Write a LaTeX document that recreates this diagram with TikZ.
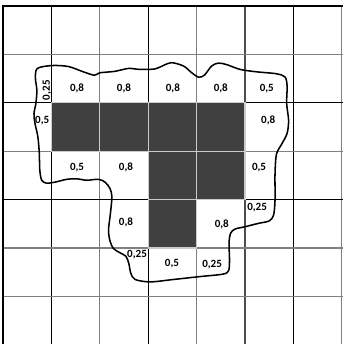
\documentclass[tikz,border=0pt]{standalone}
\usepackage{fontspec}
\newfontfamily\labfont{Carlito}
\usepackage{tikz}
\usetikzlibrary{positioning}
\usepackage{xcolor}
\definecolor{hot}{HTML}{404040}
\definecolor{gridgray}{HTML}{808080}

\begin{document}
\begin{tikzpicture}[x=1cm,y=-1cm, val/.style={font=\labfont\fontsize{6.5}{7.5}\selectfont\bfseries,inner sep=0pt}, hotcell/.style={fill=hot,draw=gray!40,line width=0.7pt}, gline/.style={line width=0.7pt}]
  \useasboundingbox (-0.062,-0.124) rectangle (7.004,6.983);
  % grid lines
  \foreach \i/\c in {1/black,2/gridgray,3/black,4/gridgray,5/black!70,6/black,7/gridgray}{
    \draw[gline,\c] (\i,0) -- (\i,7.2);
  }
  \foreach \j/\c in {1/gridgray,2/black,3/gridgray,4/black,5/gridgray,6/gridgray}{
    \draw[gline,\c] (0,\j) -- (7.1,\j);
  }
  \draw[line width=1.2pt] (-0.02,0) -- (7.1,0);
  \draw[line width=1.6pt] (0,-0.03) -- (0,7.2);
  % dark cells
  \foreach \x/\y in {1/2,2/2,3/2,4/2,3/3,4/3,3/4}{
    \draw[hotcell] (\x,\y) rectangle +(1,1);
  }
  % values
  \foreach \x/\y/\t [count=\k] in {1.53/1.71/{0,8},2.50/1.71/{0,8},3.51/1.71/{0,8},4.50/1.71/{0,8},5.45/1.71/{0,5},
      0.81/2.36/{0,5},5.48/2.36/{0,8},
      1.53/3.33/{0,5},2.54/3.33/{0,8},5.29/3.33/{0,5},
      2.54/4.48/{0,8},4.52/4.52/{0,8},5.25/4.17/{0,25},
      2.77/5.14/{0,25},3.49/5.33/{0,5},4.32/5.35/{0,25}}{
    \node[val] (v\k) at (\x,\y) {\t};
  }
  \node[val,rotate=90] (vr) at (0.91,1.74) {0,25};
  % contour
  \draw[line width=0.9pt] plot[smooth cycle, tension=0.5] coordinates {
    (0.71,1.29) (1.01,1.23) (1.35,1.25) (1.66,1.36) (1.89,1.43) (2.00,1.38)
    (2.31,1.35) (2.59,1.29) (2.83,1.31) (3.14,1.30) (3.31,1.23) (3.48,1.17)
    (3.73,1.24) (3.90,1.38) (4.04,1.47) (4.16,1.43) (4.31,1.24) (4.45,1.18)
    (4.62,1.21) (4.90,1.31) (5.24,1.36) (5.65,1.40) (5.83,1.47) (5.87,1.67)
    (5.86,2.01) (5.90,2.36) (5.87,2.63) (5.76,2.85) (5.65,3.06) (5.62,3.46)
    (5.62,4.01) (5.59,4.32) (5.50,4.44) (5.28,4.49) (5.00,4.56) (4.79,4.61)
    (4.70,4.70) (4.67,4.90) (4.68,5.25) (4.66,5.47) (4.54,5.54) (4.07,5.59)
    (3.52,5.65) (3.04,5.70) (2.73,5.65) (2.64,5.52) (2.60,5.32) (2.54,5.17)
    (2.42,5.10) (2.28,5.01) (2.21,4.85) (2.18,4.63) (2.22,4.28) (2.25,3.94)
    (2.21,3.77) (2.11,3.64) (1.97,3.58) (1.73,3.60) (1.52,3.57) (1.32,3.58)
    (1.07,3.64) (0.90,3.66) (0.80,3.60) (0.76,3.39) (0.75,3.04) (0.72,2.70)
    (0.66,2.42) (0.64,2.22) (0.68,2.01) (0.70,1.74) (0.67,1.49)};
\end{tikzpicture}
\end{document}
